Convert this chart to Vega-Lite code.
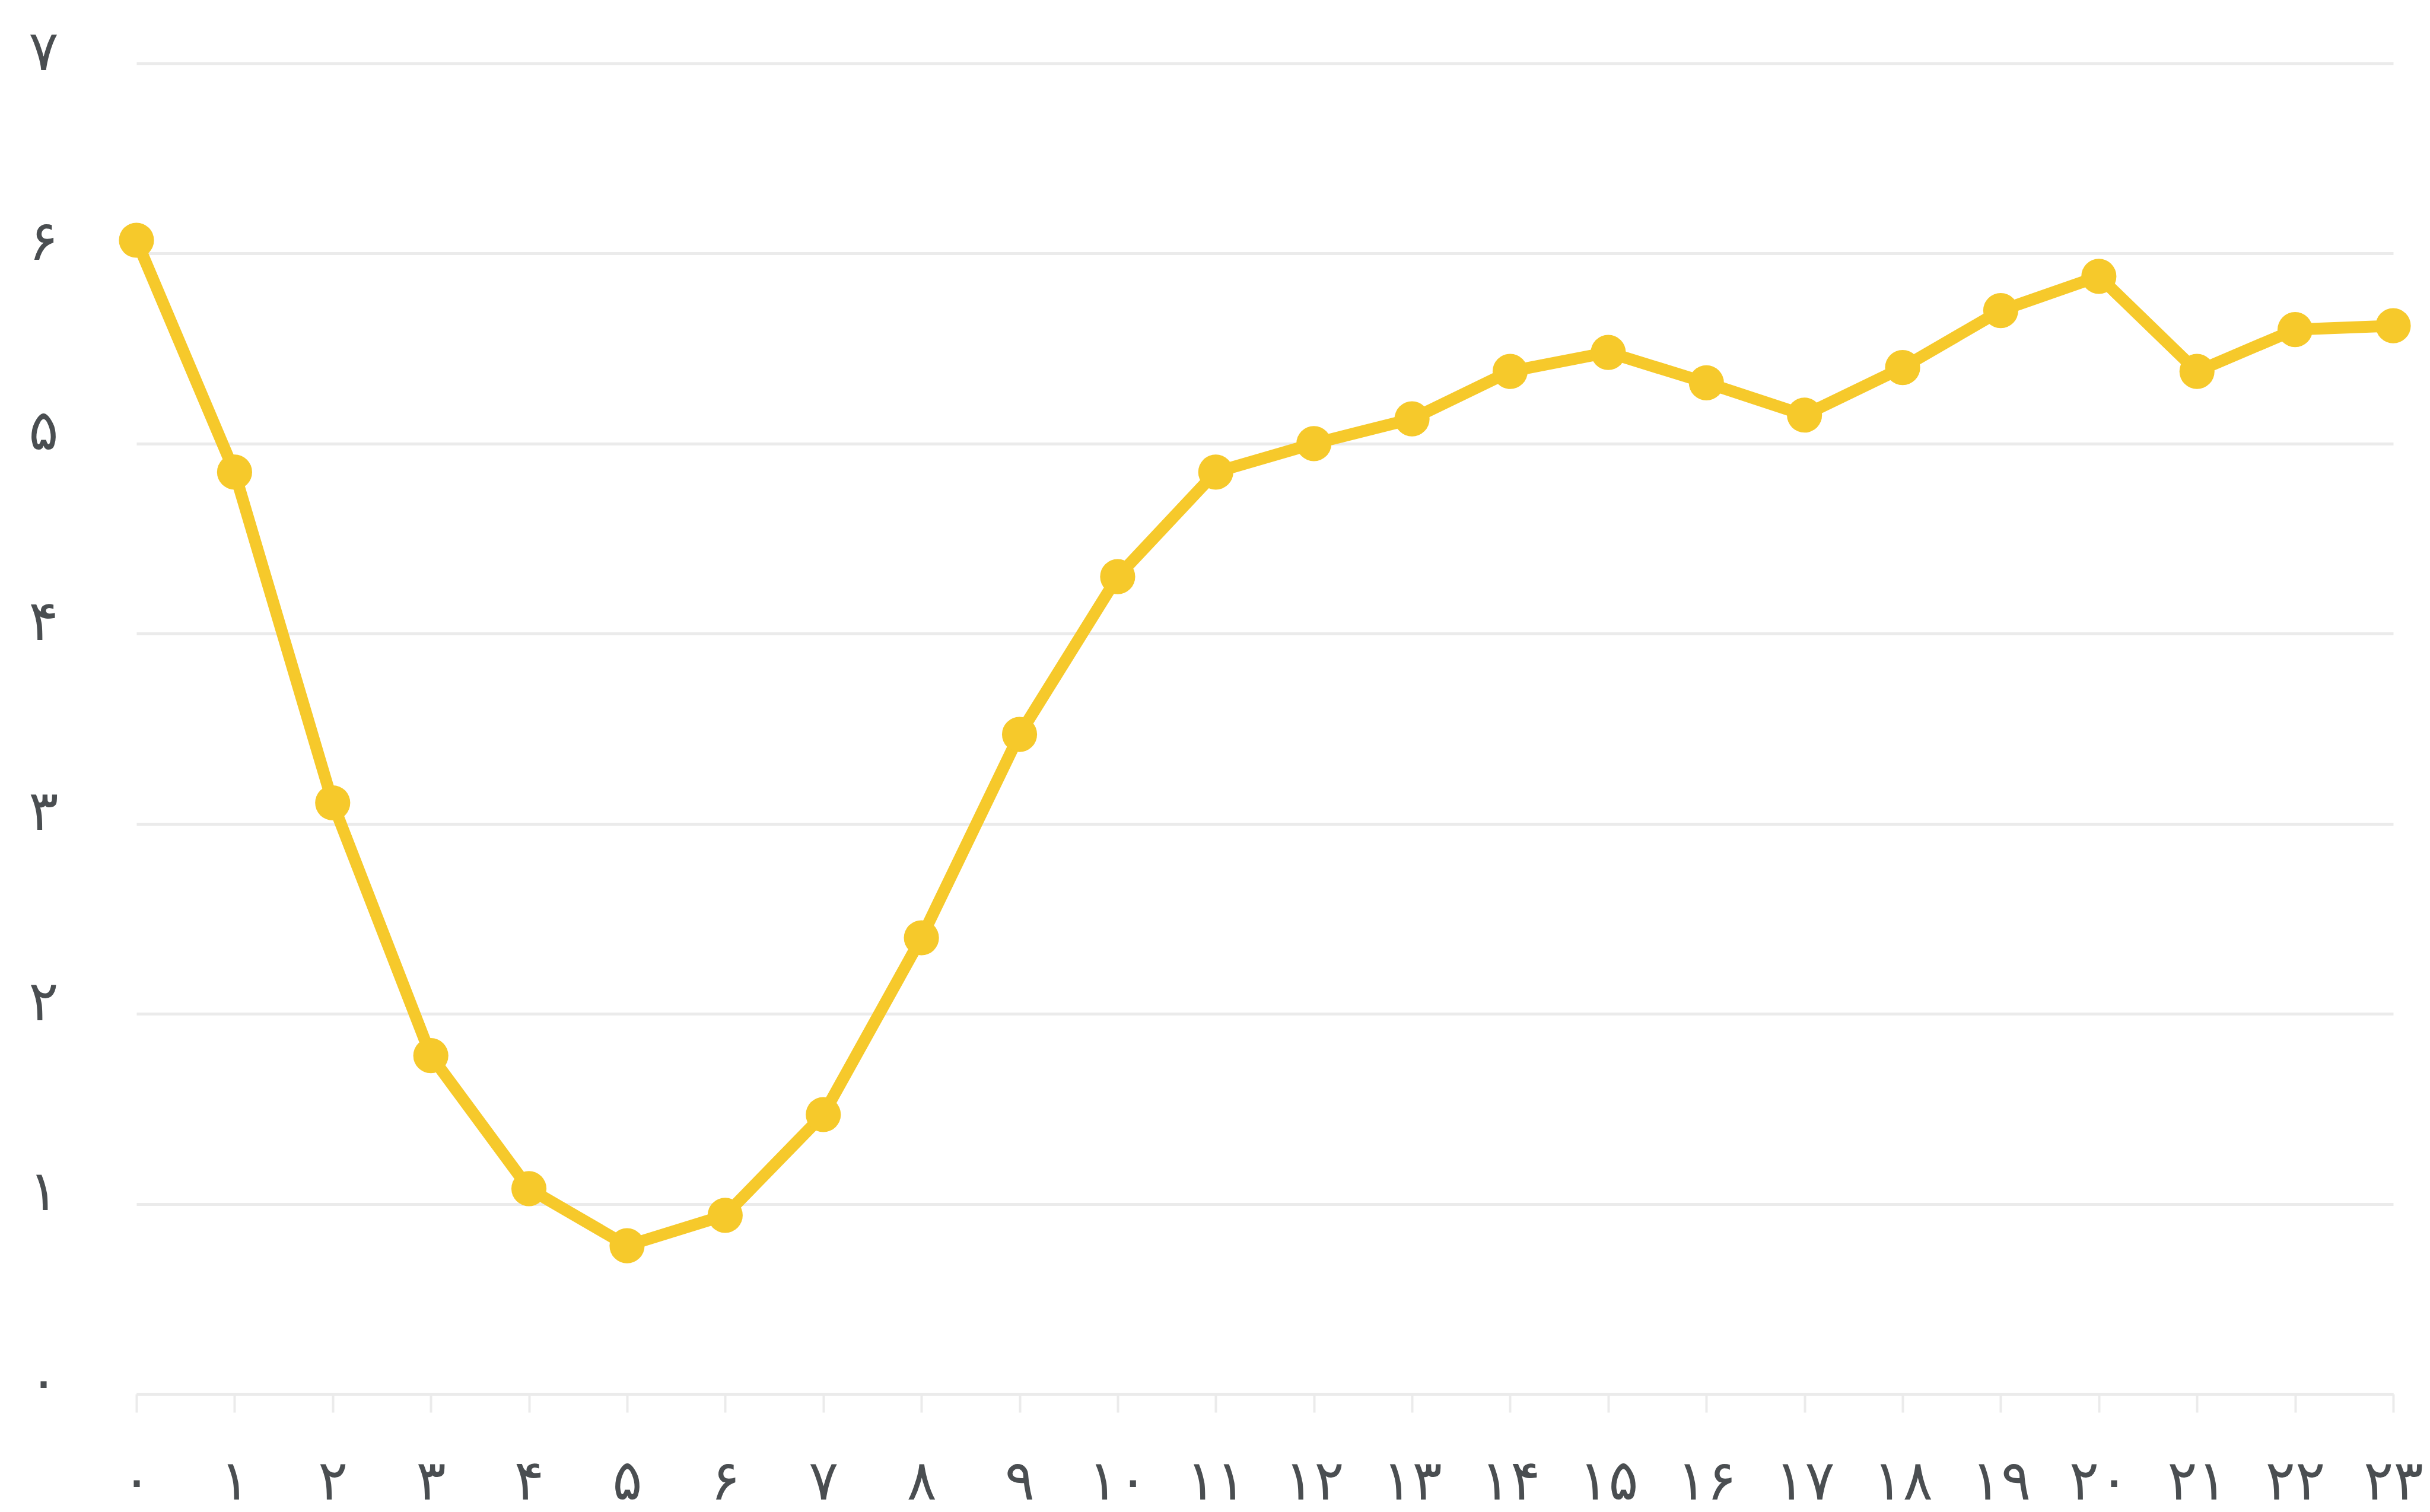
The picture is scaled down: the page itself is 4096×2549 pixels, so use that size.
{
  "$schema": "https://vega.github.io/schema/vega-lite/v6.json",
  "autosize": {"type": "none"},
  "padding": {"left": 230, "top": 107, "right": 62, "bottom": 199},
  "width": 3804,
  "height": 2243,
  "background": "#ffffff",
  "config": {
    "view": {"stroke": null},
    "font": "DejaVu Sans"
  },
  "data": {
    "values": [
      {"hour": 0, "value": 6.07},
      {"hour": 1, "value": 4.85},
      {"hour": 2, "value": 3.11},
      {"hour": 3, "value": 1.78},
      {"hour": 4, "value": 1.08},
      {"hour": 5, "value": 0.78},
      {"hour": 6, "value": 0.94},
      {"hour": 7, "value": 1.47},
      {"hour": 8, "value": 2.40},
      {"hour": 9, "value": 3.47},
      {"hour": 10, "value": 4.30},
      {"hour": 11, "value": 4.85},
      {"hour": 12, "value": 5.00},
      {"hour": 13, "value": 5.13},
      {"hour": 14, "value": 5.38},
      {"hour": 15, "value": 5.48},
      {"hour": 16, "value": 5.32},
      {"hour": 17, "value": 5.15},
      {"hour": 18, "value": 5.40},
      {"hour": 19, "value": 5.70},
      {"hour": 20, "value": 5.88},
      {"hour": 21, "value": 5.38},
      {"hour": 22, "value": 5.60},
      {"hour": 23, "value": 5.62}
    ]
  },
  "mark": {
    "type": "line",
    "color": "#F6C92B",
    "strokeWidth": 20,
    "strokeJoin": "round",
    "point": {"filled": true, "size": 3500, "color": "#F6C92B", "opacity": 1}
  },
  "encoding": {
    "x": {
      "field": "hour",
      "type": "quantitative",
      "scale": {"domain": [0, 23], "nice": false, "zero": false},
      "axis": {
        "title": null,
        "values": [0,1,2,3,4,5,6,7,8,9,10,11,12,13,14,15,16,17,18,19,20,21,22,23],
        "labelExpr": "['۰','۱','۲','۳','۴','۵','۶','۷','۸','۹','۱۰','۱۱','۱۲','۱۳','۱۴','۱۵','۱۶','۱۷','۱۸','۱۹','۲۰','۲۱','۲۲','۲۳'][datum.value]",
        "grid": false,
        "domain": true,
        "domainColor": "#ebebeb",
        "domainWidth": 5,
        "ticks": true,
        "tickColor": "#ebebeb",
        "tickWidth": 4,
        "tickSize": 31,
        "labelFontSize": 94,
        "labelColor": "#4a4e51",
        "labelPadding": 118,
        "labelBaseline": "middle",
        "labelAlign": "center",
        "labelOverlap": false,
        "labelFlush": false,
        "labelBound": false
      }
    },
    "y": {
      "field": "value",
      "type": "quantitative",
      "scale": {"domain": [0, 7], "nice": false},
      "axis": {
        "title": null,
        "values": [0,1,2,3,4,5,6,7],
        "labelExpr": "['۰','۱','۲','۳','۴','۵','۶','۷'][datum.value]",
        "grid": true,
        "gridColor": "#ebebeb",
        "gridWidth": 5,
        "domain": false,
        "ticks": false,
        "labelFontSize": 94,
        "labelColor": "#4a4e51",
        "labelPadding": 157,
        "labelAlign": "center",
        "labelBaseline": "middle",
        "labelOffset": -18,
        "labelOverlap": false,
        "labelFlush": false,
        "labelBound": false
      }
    }
  }
}
